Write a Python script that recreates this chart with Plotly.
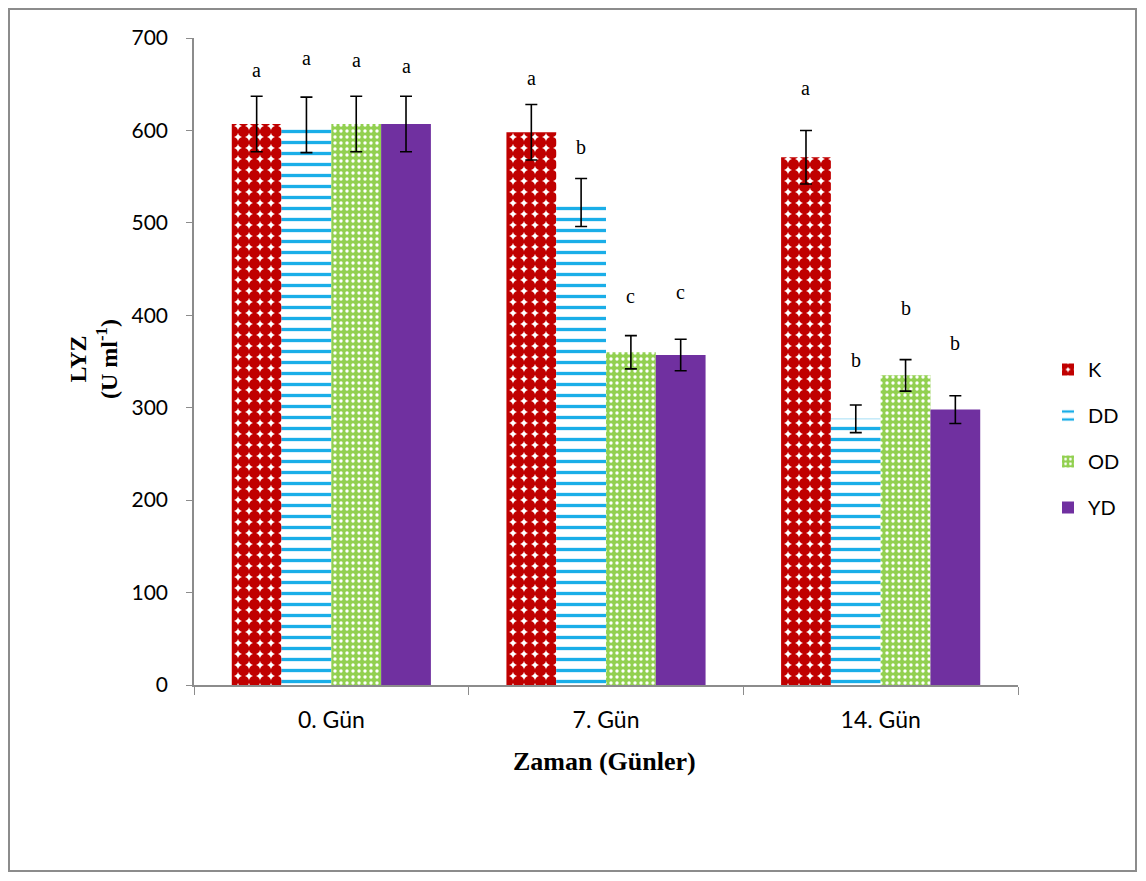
import plotly.graph_objects as go

categories = ["0. Gün", "7. Gün", "14. Gün"]
series_names = ["K", "DD", "OD", "YD"]

K_vals = [607, 598, 571]
DD_vals = [606, 522, 288]
OD_vals = [607, 360, 335]
YD_vals = [607, 357, 298]

K_err = [30, 30, 29]
DD_err = [30, 26, 15]
OD_err = [30, 18, 17]
YD_err = [30, 17, 15]

K_letters = ["a", "a", "a"]
DD_letters = ["a", "b", "b"]
OD_letters = ["a", "c", "b"]
YD_letters = ["a", "c", "b"]

K_label_y = [665, 657, 646]
DD_label_y = [678, 582, 352]
OD_label_y = [676, 421, 408]
YD_label_y = [670, 425, 370]

OFF = 8  # page body margin
W, H = 1130, 865
L = 194 - OFF
T = 38 - OFF
R = W - (1018 - OFF)
B = H - (685 - OFF)

values = [K_vals, DD_vals, OD_vals, YD_vals]
errors = [K_err, DD_err, OD_err, YD_err]
letters = [K_letters, DD_letters, OD_letters, YD_letters]
label_ys = [K_label_y, DD_label_y, OD_label_y, YD_label_y]

patterns = [
    dict(shape=".", fgcolor="#C00000", bgcolor="#FFFFFF", size=11, solidity=0.8, fillmode="replace"),
    dict(shape="-", fgcolor="#1AAEE8", bgcolor="#FFFFFF", size=11, solidity=0.3, fillmode="replace"),
    dict(shape=".", fgcolor="#FFFFFF", bgcolor="#92D050", size=6, solidity=0.25, fillmode="replace"),
    dict(shape="", fgcolor="#7030A0", bgcolor="#7030A0", fillmode="replace"),
]
colors = ["#C00000", "#1AAEE8", "#92D050", "#7030A0"]

fig = go.Figure()
for i, name in enumerate(series_names):
    fig.add_trace(go.Bar(
        name=name, x=categories, y=values[i],
        marker=dict(color=colors[i], pattern=patterns[i], line=dict(width=0)),
        error_y=dict(type="data", array=errors[i], color="black", thickness=1.6, width=6),
        legendgroup=name,
    ))

bargap = 0.275
bw = (1 - bargap) / 4
annotations = []
for i in range(4):
    off = -(1 - bargap) / 2 + bw * (i + 0.5)
    for j in range(3):
        annotations.append(dict(
            x=j + off, y=label_ys[i][j], xref="x", yref="y", text=letters[i][j],
            showarrow=False, xanchor="center", yanchor="middle",
            font=dict(family="Liberation Serif", size=20, color="black"),
        ))

pw = W - L - R
ph = H - T - B
def px2x(p):
    return (p - OFF - L) / pw
def py2y(p):
    return (H - B - (p - OFF)) / ph

annotations.append(dict(
    x=px2x(93), y=py2y(359), xref="paper", yref="paper", textangle=-90,
    xanchor="center", yanchor="middle",
    text="<b>LYZ</b><br><b>(U ml<sup>-1</sup>)</b>", showarrow=False,
    font=dict(family="Liberation Serif", size=24, color="black"),
))
annotations.append(dict(
    x=px2x(604), y=py2y(761), xref="paper", yref="paper",
    xanchor="center", yanchor="middle",
    text="<b>Zaman (Günler)</b>", showarrow=False,
    font=dict(family="Liberation Serif", size=26, color="black"),
))

fig.update_layout(
    width=W, height=H,
    margin=dict(l=L, r=R, t=T, b=B),
    paper_bgcolor="white", plot_bgcolor="white",
    barmode="group", bargap=bargap, bargroupgap=0,
    showlegend=True,
    legend=dict(x=px2x(1048), y=py2y(350), xanchor="left", yanchor="top",
                font=dict(family="Lato", size=20, color="black"),
                tracegroupgap=17, bgcolor="rgba(0,0,0,0)"),
    annotations=annotations,
    shapes=[dict(type="rect", xref="paper", yref="paper",
                 x0=px2x(OFF + 1), x1=px2x(OFF + W - 2), y0=py2y(OFF + H - 2), y1=py2y(OFF + 1),
                 line=dict(color="#8C8C8C", width=2), fillcolor="rgba(0,0,0,0)", layer="below")],
    font=dict(family="Lato", size=20, color="black"),
)
fig.update_yaxes(range=[0, 700], dtick=100, showgrid=False, showline=True, linecolor="#8C8C8C",
                 linewidth=1.5, ticks="outside", ticklen=6, tickcolor="#8C8C8C",
                 ticklabelstandoff=14,
                 tickfont=dict(family="Lato", size=21, color="black"), zeroline=False)
fig.update_xaxes(showgrid=False, showline=True, linecolor="#8C8C8C", linewidth=1.5,
                 ticks="outside", ticklen=8, tickcolor="#8C8C8C", tickson="boundaries",
                 ticklabelstandoff=14,
                 tickfont=dict(family="Lato", size=23, color="black"))

fig.write_html("out.html")
